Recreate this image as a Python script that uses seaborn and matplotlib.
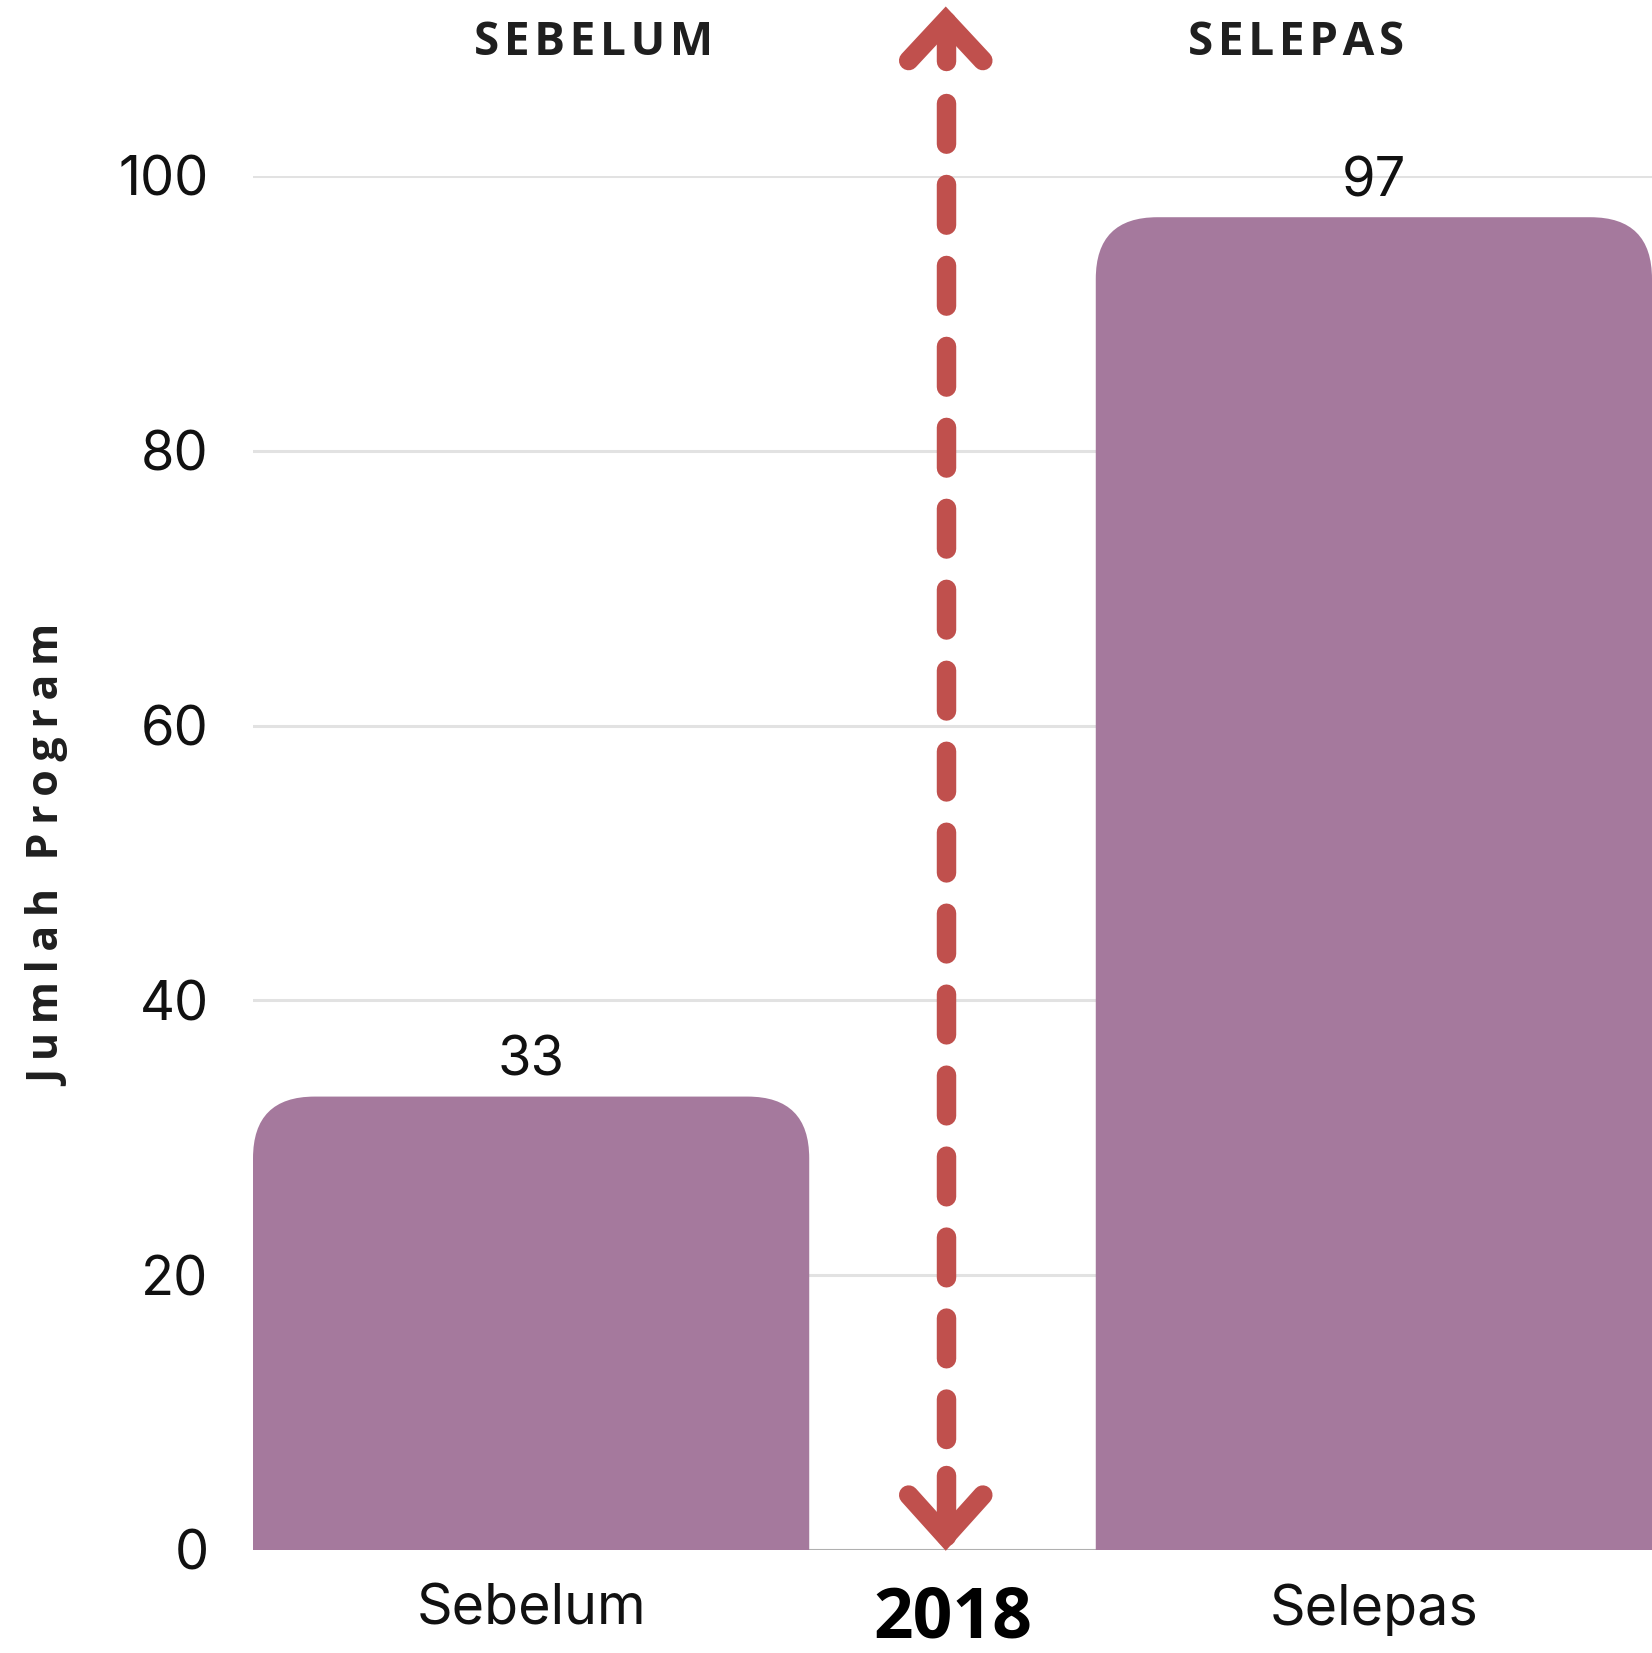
import matplotlib
matplotlib.use("Agg")
import matplotlib.pyplot as plt
import seaborn as sns
import pandas as pd
from matplotlib.patches import FancyBboxPatch
from matplotlib.transforms import blended_transform_factory

# ---- data ----
categories = ["Sebelum", "Selepas"]
values = [33, 97]
y_ticks = [0, 20, 40, 60, 80, 100]
header_labels = ["SEBELUM", "SELEPAS"]
divider_label = "2018"
y_label = "Jumlah Program"

BAR_COLOR = "#A5799D"
RED = "#C0504D"
TEXT = "#111111"

sns.set_theme(style="white")
plt.rcParams["font.family"] = ["Inter", "DejaVu Sans"]
plt.rcParams["lines.scale_dashes"] = False

W, H = 1652, 1653
fig = plt.figure(figsize=(W / 100, H / 100), dpi=100)
ax = fig.add_axes([253 / W, 1 - 1550 / H, 1 - 253 / W, (1550 - 176) / H])

df = pd.DataFrame({"cat": categories, "val": values})
sns.barplot(data=df, x="cat", y="val", color=BAR_COLOR, width=0.66,
            saturation=1, ax=ax, zorder=3)

ax.set_xlim(-0.33, 1.33)
ax.set_ylim(0, 100)

cont = ax.containers[0]
ax.bar_label(cont, padding=7, fontsize=39, color=TEXT)
for p in cont:
    x0, w, h = p.get_x(), p.get_width(), p.get_height()
    rb = FancyBboxPatch((x0, -10), w, h + 10,
                        boxstyle="round,pad=0,rounding_size=0.073",
                        mutation_aspect=61.5, fc=BAR_COLOR, ec="none", zorder=3)
    ax.add_patch(rb)
    p.set_visible(False)

ax.set_yticks(y_ticks)
ax.yaxis.grid(True, color="#e2e2e2", lw=2.2)
ax.xaxis.grid(False)
ax.set_axisbelow(True)
ax.axhline(0, color="#b0b0b0", lw=2.2, zorder=2)
for s in ax.spines.values():
    s.set_visible(False)
ax.tick_params(axis="y", length=0, pad=32, labelsize=39, labelcolor=TEXT)
ax.tick_params(axis="x", length=0, pad=24, labelsize=40, labelcolor=TEXT)
ax.set_xlabel("")
ax.set_ylabel("")

bold_family = ["Open Sans", "DejaVu Sans"]
def spaced(s, sp="\u200a"):
    return sp.join(list(s))

trans = blended_transform_factory(ax.transData, fig.transFigure)
for xh, lab in zip([0.074, 0.908], header_labels):
    ax.text(xh, 1 - 55 / H, spaced(lab), transform=trans, ha="center",
            va="baseline", fontsize=33, fontweight="bold",
            family=bold_family, color="#1f1f1f")

ax.text(0.5, 1 - 1638 / H, divider_label, transform=trans, ha="center",
        va="baseline", fontsize=50, fontweight="bold", family=bold_family,
        color="black")

fig.text(0.030, 0.482, spaced(y_label, "\u2009"), rotation=90, ha="center",
         va="center", fontsize=31, fontweight="bold", family=bold_family,
         color="#1f1f1f")

# ---- double-headed dashed arrow ----
xa = 0.492
lw = 14.0
dx = 0.044
ax.plot([xa, xa], [105.3, 8.1], color=RED, lw=lw, dashes=(29.3, 29.0),
        dash_capstyle="round", clip_on=False, zorder=5)
# top head
ax.plot([xa - dx, xa, xa + dx], [108.4, 111.3, 108.4], color=RED, lw=lw,
        solid_capstyle="round", solid_joinstyle="miter", clip_on=False, zorder=5)
ax.plot([xa, xa], [108.4, 111.3], color=RED, lw=lw,
        solid_capstyle="round", clip_on=False, zorder=5)
# bottom head
ax.plot([xa - dx, xa, xa + dx], [4.0, 1.0, 4.0], color=RED, lw=lw,
        solid_capstyle="round", solid_joinstyle="miter", clip_on=False, zorder=5)
ax.plot([xa, xa], [5.46, 1.0], color=RED, lw=lw,
        solid_capstyle="round", clip_on=False, zorder=5)

fig.savefig("out.png", dpi=100)
